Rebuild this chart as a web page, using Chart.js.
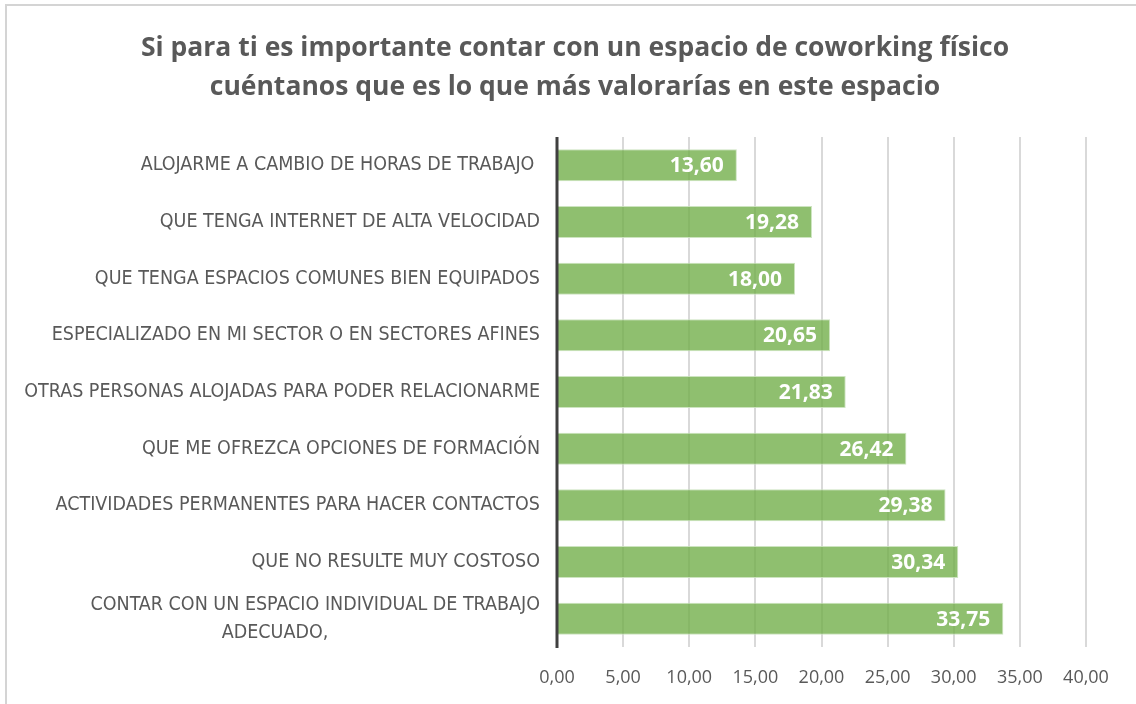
<!DOCTYPE html>
<html>
<head>
<meta charset="utf-8">
<script src="https://cdn.jsdelivr.net/npm/chart.js@4.4.1/dist/chart.umd.min.js"></script>
<style>
  html,body{margin:0;padding:0;background:#fff;overflow:hidden}
  #frame{position:absolute;left:5px;top:4px;width:1200px;height:760px;border:2px solid #d4d4d4;box-sizing:border-box}
  #wrap{position:absolute;left:0;top:0;width:1136px;height:704px}
</style>
</head>
<body>
<div id="frame"></div>
<div id="wrap"><canvas id="c"></canvas></div>
<script>
/* ---------- данные ---------- */
const titleLines = [
  'Si para ti es importante contar con un espacio de coworking físico',
  'cuéntanos que es lo que más valorarías en este espacio'
];
const categories = [
  'ALOJARME A CAMBIO DE HORAS DE TRABAJO ',
  'QUE TENGA INTERNET DE ALTA VELOCIDAD',
  'QUE TENGA ESPACIOS COMUNES BIEN EQUIPADOS',
  'ESPECIALIZADO EN MI SECTOR O EN SECTORES AFINES',
  'OTRAS PERSONAS ALOJADAS PARA PODER RELACIONARME',
  'QUE ME OFREZCA OPCIONES DE FORMACIÓN',
  'ACTIVIDADES PERMANENTES PARA HACER CONTACTOS',
  'QUE NO RESULTE MUY COSTOSO',
  ['CONTAR CON UN ESPACIO INDIVIDUAL DE TRABAJO', 'ADECUADO,                                      ']
];
const values = [13.60, 19.28, 18.00, 20.65, 21.83, 26.42, 29.38, 30.34, 33.75];
const xMin = 0, xMax = 40, xStep = 5;

const fmt = v => v.toFixed(2).replace('.', ',');
const LABEL_FONT = '"Liberation Sans Narrow", "DejaVu Sans Condensed", sans-serif';
const TITLE_FONT = '"Open Sans", "Liberation Sans", sans-serif';

/* ---------- заголовок по центру всей картинки ---------- */
const centeredTitle = {
  id: 'centeredTitle',
  afterDraw(chart) {
    const ctx = chart.ctx;
    ctx.save();
    ctx.font = 'bold 26.5px ' + TITLE_FONT;
    ctx.fillStyle = '#595959';
    ctx.textAlign = 'center';
    ctx.textBaseline = 'middle';
    ctx.fillText(titleLines[0], 575, 48);
    ctx.fillText(titleLines[1], 575, 87);
    ctx.restore();
  }
};

/* ---------- подписи внутри столбцов ---------- */
const barLabels = {
  id: 'barLabels',
  afterDatasetsDraw(chart) {
    const ctx = chart.ctx;
    const meta = chart.getDatasetMeta(0);
    ctx.save();
    ctx.font = 'bold 21px ' + TITLE_FONT;
    ctx.fillStyle = '#ffffff';
    ctx.textAlign = 'right';
    ctx.textBaseline = 'middle';
    meta.data.forEach((bar, i) => {
      ctx.fillText(fmt(values[i]), bar.x - 13, bar.y + 1);
    });
    ctx.restore();
  }
};

/* ---------- левая ось ---------- */
const leftAxis = {
  id: 'leftAxis',
  afterDatasetsDraw(chart) {
    const {ctx, chartArea: a} = chart;
    ctx.save();
    ctx.strokeStyle = '#404040';
    ctx.lineWidth = 3;
    ctx.beginPath();
    ctx.moveTo(a.left, a.top);
    ctx.lineTo(a.left, a.bottom + 1);
    ctx.stroke();
    ctx.restore();
  }
};

new Chart(document.getElementById('c'), {
  type: 'bar',
  data: {
    labels: categories,
    datasets: [{
      data: values,
      backgroundColor: 'rgba(112,173,71,0.78)',
      borderColor: 'rgba(200,225,185,0.9)',
      borderWidth: 1,
      categoryPercentage: 0.565,
      barPercentage: 1
    }]
  },
  options: {
    indexAxis: 'y',
    responsive: true,
    maintainAspectRatio: false,
    animation: false,
    layout: { padding: { left: 0, right: 50, top: 137, bottom: 0 } },
    plugins: {
      legend: { display: false },
      tooltip: { enabled: false },
      title: { display: false }
    },
    scales: {
      x: {
        min: xMin, max: xMax,
        ticks: {
          stepSize: xStep,
          callback: v => fmt(v),
          color: '#595959',
          font: { family: TITLE_FONT, size: 18 },
          padding: 20
        },
        grid: { color: '#d9d9d9', lineWidth: 2, drawTicks: false },
        border: { display: false },
        afterFit(scale) { scale.height = 57; }
      },
      y: {
        ticks: {
          autoSkip: false,
          color: '#595959',
          font: { family: LABEL_FONT, size: 19.5, lineHeight: 1.45 },
          padding: 9
        },
        grid: { display: false },
        border: { display: false },
        afterFit(scale) { scale.width = 557; }
      }
    }
  },
  plugins: [barLabels, leftAxis, centeredTitle]
});
</script>
</body>
</html>
